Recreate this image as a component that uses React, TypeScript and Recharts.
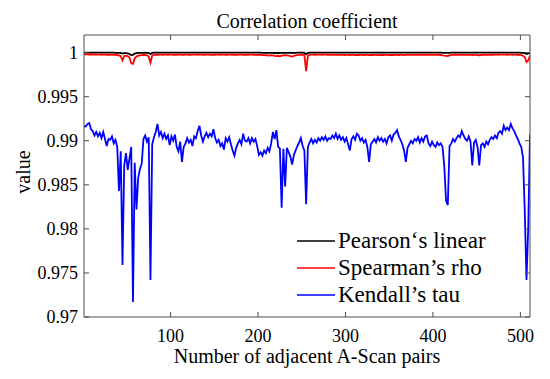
import React from 'react';
import { LineChart, Line, XAxis, YAxis, Legend } from 'recharts';

// x positions: every second A-Scan pair (1, 3, 5, ..., 511)
const pearson = [
  0.99999,0.99999,0.99999,0.99999,0.99999,0.99999,0.99999,0.99999,0.99999,0.99999,0.99999,0.99999,0.99999,0.99999,0.99999,0.99999,
  0.99999,0.99999,0.99998,0.99998,0.99997,0.99996,0.99990,0.99994,0.99995,0.99992,0.99985,0.99972,0.99975,0.99990,0.99995,0.99997,
  0.99998,0.99998,0.99998,0.99999,0.99998,0.99996,0.99985,0.99997,0.99999,0.99999,0.99999,0.99999,0.99999,0.99999,0.99999,0.99999,
  0.99999,0.99999,0.99999,0.99999,0.99999,0.99999,0.99999,0.99999,0.99999,0.99999,0.99999,0.99999,0.99999,0.99999,0.99999,0.99999,
  0.99999,0.99999,0.99999,0.99999,0.99999,0.99999,0.99999,0.99999,0.99999,0.99999,0.99999,0.99999,0.99999,0.99999,0.99999,0.99999,
  0.99999,0.99999,0.99999,0.99999,0.99999,0.99999,0.99999,0.99999,0.99999,0.99999,0.99999,0.99999,0.99999,0.99999,0.99999,0.99999,
  0.99999,0.99999,0.99999,0.99999,0.99999,0.99999,0.99998,0.99998,0.99998,0.99997,0.99997,0.99998,0.99997,0.99996,0.99996,0.99997,
  0.99996,0.99998,0.99998,0.99998,0.99998,0.99998,0.99998,0.99996,0.99997,0.99998,0.99999,0.99999,0.99999,0.99999,0.99998,0.99980,
  0.99996,0.99999,0.99999,0.99999,0.99999,0.99999,0.99999,0.99999,0.99999,0.99999,0.99999,0.99999,0.99999,0.99999,0.99999,0.99999,
  0.99999,0.99999,0.99999,0.99999,0.99999,0.99999,0.99999,0.99999,0.99999,0.99999,0.99999,0.99999,0.99999,0.99999,0.99999,0.99999,
  0.99999,0.99999,0.99999,0.99999,0.99999,0.99999,0.99999,0.99999,0.99999,0.99999,0.99999,0.99999,0.99999,0.99999,0.99999,0.99999,
  0.99999,0.99999,0.99999,0.99999,0.99999,0.99999,0.99999,0.99999,0.99999,0.99999,0.99999,0.99999,0.99999,0.99999,0.99999,0.99999,
  0.99999,0.99999,0.99999,0.99999,0.99999,0.99999,0.99999,0.99999,0.99999,0.99999,0.99999,0.99999,0.99999,0.99998,0.99998,0.99997,
  0.99997,0.99998,0.99999,0.99999,0.99999,0.99999,0.99999,0.99999,0.99999,0.99999,0.99999,0.99999,0.99999,0.99999,0.99999,0.99999,
  0.99999,0.99999,0.99999,0.99999,0.99999,0.99999,0.99999,0.99999,0.99999,0.99999,0.99999,0.99999,0.99999,0.99999,0.99999,0.99999,
  0.99999,0.99999,0.99999,0.99999,0.99999,0.99999,0.99999,0.99999,0.99999,0.99999,0.99998,0.99997,0.99995,0.99985,0.99990,0.99998,
];

const spearman = [
  0.99980,0.99981,0.99980,0.99979,0.99980,0.99978,0.99979,0.99978,0.99977,0.99978,0.99976,0.99978,0.99977,0.99975,0.99977,0.99976,
  0.99977,0.99975,0.99976,0.99972,0.99968,0.99960,0.99912,0.99962,0.99966,0.99960,0.99945,0.99880,0.99873,0.99935,0.99955,0.99965,
  0.99970,0.99972,0.99973,0.99974,0.99970,0.99955,0.99886,0.99968,0.99975,0.99977,0.99976,0.99978,0.99977,0.99976,0.99978,0.99977,
  0.99976,0.99978,0.99977,0.99975,0.99977,0.99976,0.99978,0.99977,0.99975,0.99976,0.99978,0.99977,0.99976,0.99975,0.99977,0.99978,
  0.99977,0.99976,0.99978,0.99977,0.99975,0.99976,0.99977,0.99978,0.99976,0.99975,0.99977,0.99976,0.99978,0.99977,0.99976,0.99978,
  0.99977,0.99976,0.99975,0.99977,0.99978,0.99976,0.99977,0.99975,0.99976,0.99977,0.99978,0.99976,0.99975,0.99977,0.99976,0.99978,
  0.99977,0.99976,0.99975,0.99974,0.99976,0.99975,0.99973,0.99972,0.99970,0.99968,0.99966,0.99970,0.99968,0.99962,0.99960,0.99964,
  0.99958,0.99965,0.99970,0.99972,0.99970,0.99966,0.99960,0.99955,0.99962,0.99968,0.99972,0.99974,0.99975,0.99976,0.99972,0.99790,
  0.99962,0.99975,0.99977,0.99978,0.99976,0.99977,0.99978,0.99977,0.99976,0.99978,0.99977,0.99976,0.99975,0.99977,0.99976,0.99975,
  0.99976,0.99975,0.99974,0.99976,0.99975,0.99973,0.99975,0.99974,0.99973,0.99975,0.99974,0.99972,0.99974,0.99973,0.99975,0.99974,
  0.99973,0.99975,0.99974,0.99972,0.99974,0.99973,0.99975,0.99974,0.99973,0.99972,0.99974,0.99973,0.99975,0.99974,0.99972,0.99973,
  0.99974,0.99973,0.99975,0.99974,0.99973,0.99975,0.99974,0.99972,0.99974,0.99975,0.99976,0.99975,0.99977,0.99976,0.99975,0.99977,
  0.99976,0.99977,0.99975,0.99976,0.99977,0.99975,0.99976,0.99974,0.99975,0.99976,0.99974,0.99975,0.99973,0.99970,0.99966,0.99963,
  0.99962,0.99968,0.99972,0.99975,0.99976,0.99977,0.99976,0.99975,0.99977,0.99976,0.99975,0.99977,0.99976,0.99974,0.99973,0.99975,
  0.99974,0.99972,0.99970,0.99973,0.99975,0.99976,0.99975,0.99974,0.99976,0.99977,0.99976,0.99978,0.99977,0.99976,0.99978,0.99977,
  0.99978,0.99977,0.99976,0.99978,0.99977,0.99976,0.99978,0.99977,0.99976,0.99975,0.99972,0.99965,0.99950,0.99893,0.99910,0.99968,
];

const kendall = [
  0.9917,0.9916,0.9919,0.9920,0.9913,0.9911,0.9906,0.9910,0.9905,0.9909,0.9903,0.9910,0.9902,0.9894,0.9902,0.9901,
  0.9905,0.9897,0.9901,0.9893,0.9843,0.9888,0.9759,0.9872,0.9886,0.9867,0.9880,0.9893,0.9717,0.9875,0.9822,0.9858,
  0.9868,0.9874,0.9902,0.9906,0.9899,0.9904,0.9742,0.9896,0.9904,0.9910,0.9919,0.9906,0.9910,0.9903,0.9908,0.9902,
  0.9906,0.9895,0.9905,0.9900,0.9907,0.9893,0.9888,0.9899,0.9876,0.9893,0.9897,0.9903,0.9898,0.9901,0.9894,0.9905,
  0.9903,0.9911,0.9917,0.9906,0.9899,0.9905,0.9909,0.9904,0.9908,0.9905,0.9913,0.9903,0.9898,0.9901,0.9894,0.9897,
  0.9890,0.9903,0.9899,0.9904,0.9896,0.9889,0.9883,0.9892,0.9897,0.9901,0.9896,0.9908,0.9900,0.9899,0.9903,0.9897,
  0.9903,0.9899,0.9902,0.9894,0.9884,0.9887,0.9883,0.9889,0.9886,0.9892,0.9888,0.9897,0.9910,0.9902,0.9912,0.9893,
  0.9891,0.9824,0.9891,0.9848,0.9892,0.9887,0.9882,0.9873,0.9884,0.9889,0.9894,0.9898,0.9903,0.9894,0.9889,0.9828,
  0.9893,0.9898,0.9902,0.9897,0.9901,0.9898,0.9903,0.9900,0.9904,0.9901,0.9905,0.9900,0.9903,0.9902,0.9906,0.9903,
  0.9908,0.9902,0.9906,0.9901,0.9904,0.9899,0.9903,0.9896,0.9889,0.9902,0.9905,0.9901,0.9908,0.9906,0.9900,0.9903,
  0.9898,0.9901,0.9893,0.9876,0.9896,0.9899,0.9902,0.9898,0.9904,0.9900,0.9903,0.9899,0.9902,0.9897,0.9904,0.9906,
  0.9900,0.9907,0.9909,0.9912,0.9905,0.9901,0.9896,0.9889,0.9876,0.9892,0.9896,0.9900,0.9897,0.9902,0.9900,0.9904,
  0.9898,0.9903,0.9899,0.9905,0.9906,0.9897,0.9894,0.9899,0.9895,0.9893,0.9898,0.9895,0.9897,0.9893,0.9871,0.9832,
  0.9827,0.9894,0.9897,0.9902,0.9899,0.9903,0.9906,0.9904,0.9911,0.9906,0.9902,0.9900,0.9905,0.9899,0.9872,0.9898,
  0.9901,0.9893,0.9872,0.9895,0.9897,0.9893,0.9899,0.9896,0.9901,0.9904,0.9902,0.9906,0.9903,0.9909,0.9911,0.9908,
  0.9917,0.9912,0.9915,0.9912,0.9919,0.9914,0.9911,0.9906,0.9902,0.9897,0.9893,0.9881,0.9820,0.9742,0.9802,0.9907,
];

const xTicks = [100, 200, 300, 400, 500];
const yTicks = [0.97, 0.975, 0.98, 0.985, 0.99, 0.995, 1];
const xDomain = [1, 511];
const yDomain = [0.97, 1.002];

const seriesNames = ['Pearson‘s linear', 'Spearman’s rho', 'Kendall’s tau'];
const seriesKeys = ['pearson', 'spearman', 'kendall'];
const seriesColors = ['#000000', '#ff0000', '#0000ff'];

const titleText = 'Correlation coefficient';
const xLabelText = 'Number of adjacent A-Scan pairs';
const yLabelText = 'value';

const data = kendall.map((k, i) => ({
  x: 2 * i + 1,
  pearson: pearson[i],
  spearman: spearman[i],
  kendall: k,
}));

const FONT = "'Liberation Serif', 'Times New Roman', serif";
const AXIS = '#4d4d4d';

const fmt = (v: number) => String(parseFloat(v.toFixed(3)));

const BottomTick = (props: any) => {
  const { x, y, payload } = props;
  return (
    <g>
      <line x1={x} y1={y} x2={x} y2={y - 5} stroke={AXIS} strokeWidth={1} />
      <text x={x} y={y + 25} textAnchor="middle" fontSize={18} fill="#000" fontFamily={FONT}>
        {fmt(payload.value)}
      </text>
    </g>
  );
};

const TopTick = (props: any) => {
  const { x, y } = props;
  return <line x1={x} y1={y} x2={x} y2={y + 5} stroke={AXIS} strokeWidth={1} />;
};

const LeftTick = (props: any) => {
  const { x, y, payload } = props;
  return (
    <g>
      <line x1={x} y1={y} x2={x + 5} y2={y} stroke={AXIS} strokeWidth={1} />
      <text x={x - 6} y={y + 6} textAnchor="end" fontSize={18} fill="#000" fontFamily={FONT}>
        {fmt(payload.value)}
      </text>
    </g>
  );
};

const RightTick = (props: any) => {
  const { x, y } = props;
  return <line x1={x} y1={y} x2={x - 5} y2={y} stroke={AXIS} strokeWidth={1} />;
};

const renderLegend = (props: any) => {
  const items = [...(props.payload || [])].sort(
    (a: any, b: any) => seriesNames.indexOf(a.value) - seriesNames.indexOf(b.value)
  );
  return (
    <div style={{ fontFamily: FONT, fontSize: 23, lineHeight: '27px' }}>
      {items.map((p: any, i: number) => (
        <div key={i} style={{ position: 'relative', height: 27 }}>
          <svg width={38} height={27} style={{ position: 'absolute', left: 0, top: 0 }}>
            <line x1={0} y1={14} x2={38} y2={14} stroke={p.color} strokeWidth={1.5} />
          </svg>
          <span style={{ position: 'absolute', left: 41, top: 0, whiteSpace: 'nowrap', color: '#000' }}>
            {p.value}
          </span>
        </div>
      ))}
    </div>
  );
};

export default function App() {
  return (
    <div style={{ position: 'absolute', left: 0, top: 0, width: 550, height: 379, background: '#fff' }}>
      <LineChart
        width={550}
        height={379}
        data={data}
        margin={{ top: 0, right: 0, bottom: 0, left: 0 }}
      >
        <XAxis
          xAxisId="bottom"
          dataKey="x"
          type="number"
          domain={xDomain}
          ticks={xTicks}
          interval={0}
          allowDataOverflow
          height={62}
          tickSize={0}
          tickMargin={0}
          tickLine={false}
          axisLine={{ stroke: AXIS, strokeWidth: 1 }}
          tick={<BottomTick />}
        />
        <XAxis
          xAxisId="top"
          orientation="top"
          dataKey="x"
          type="number"
          domain={xDomain}
          ticks={xTicks}
          interval={0}
          allowDataOverflow
          height={35}
          tickSize={0}
          tickMargin={0}
          tickLine={false}
          axisLine={{ stroke: AXIS, strokeWidth: 1 }}
          tick={<TopTick />}
        />
        <YAxis
          yAxisId="left"
          type="number"
          domain={yDomain}
          ticks={yTicks}
          interval={0}
          allowDataOverflow
          width={84}
          tickSize={0}
          tickMargin={0}
          tickLine={false}
          axisLine={{ stroke: AXIS, strokeWidth: 1 }}
          tick={<LeftTick />}
        />
        <YAxis
          yAxisId="right"
          orientation="right"
          type="number"
          domain={yDomain}
          ticks={yTicks}
          interval={0}
          allowDataOverflow
          width={20}
          tickSize={0}
          tickMargin={0}
          tickLine={false}
          axisLine={{ stroke: AXIS, strokeWidth: 1 }}
          tick={<RightTick />}
        />
        {seriesKeys.map((k, i) => (
          <Line
            key={k}
            xAxisId="bottom"
            yAxisId="left"
            type="linear"
            dataKey={k}
            name={seriesNames[i]}
            stroke={seriesColors[i]}
            strokeWidth={1.8}
            dot={false}
            activeDot={false}
            isAnimationActive={false}
          />
        ))}
        <Legend
          layout="vertical"
          verticalAlign="middle"
          align="center"
          content={renderLegend}
          wrapperStyle={{ position: 'absolute', left: 297, top: 227, width: 240 }}
        />
      </LineChart>
      <svg
        width={550}
        height={379}
        style={{ position: 'absolute', left: 0, top: 0, pointerEvents: 'none' }}
      >
        <text x={307} y={28} textAnchor="middle" fontSize={20} fill="#000" fontFamily={FONT}>
          {titleText}
        </text>
        <text x={307} y={363} textAnchor="middle" fontSize={20} fill="#000" fontFamily={FONT}>
          {xLabelText}
        </text>
        <text
          x={30}
          y={172}
          transform="rotate(-90 30 172)"
          textAnchor="middle"
          fontSize={20}
          fill="#000"
          fontFamily={FONT}
        >
          {yLabelText}
        </text>
      </svg>
    </div>
  );
}
